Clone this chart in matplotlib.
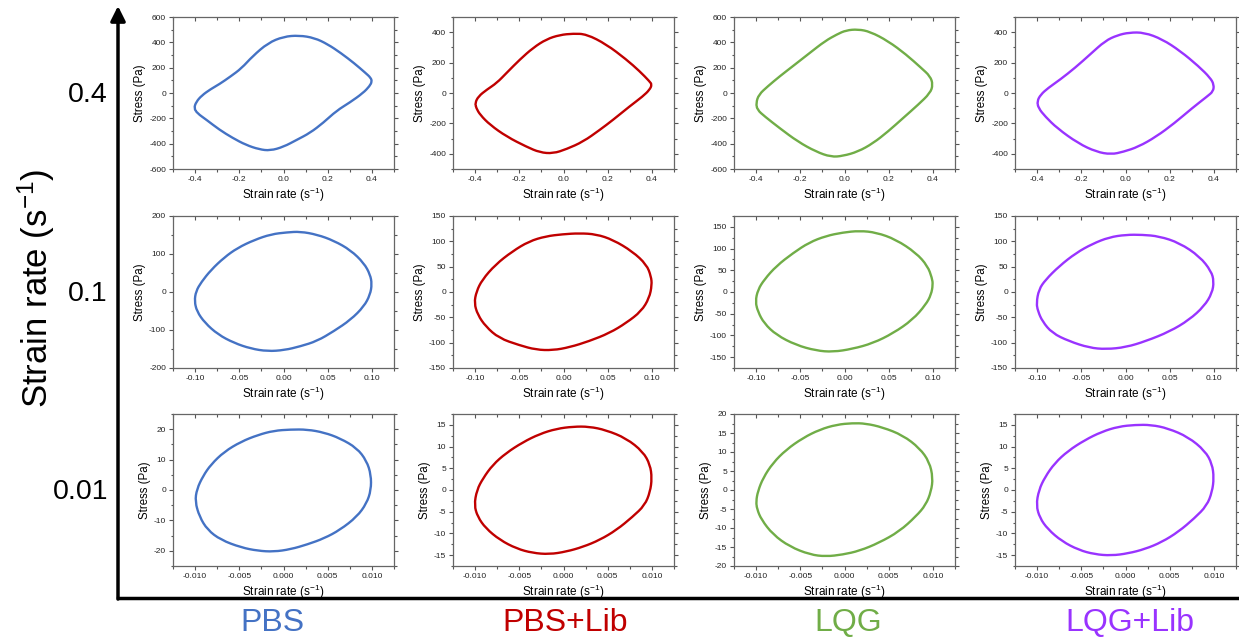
import numpy as np
import matplotlib
matplotlib.use("Agg")
import matplotlib.pyplot as plt
from matplotlib.lines import Line2D
from matplotlib.patches import FancyArrowPatch, PathPatch
from matplotlib.path import Path
from matplotlib.ticker import MultipleLocator, AutoMinorLocator, FormatStrFormatter

plt.rcParams['font.family'] = ['Liberation Sans', 'DejaVu Sans']
plt.rcParams['mathtext.default'] = 'regular'
plt.rcParams['axes.unicode_minus'] = False

W, H = 1239, 642

samples = ["PBS", "PBS+Lib", "LQG", "LQG+Lib"]
sample_colors = ["#4472C4", "#C00000", "#70AD47", "#9933FF"]
rates = ["0.4", "0.1", "0.01"]

# stress loops, strain rate amplitude 0.4 s-1
pbs_04_x = [-0.405, -0.395, -0.37, -0.33, -0.29, -0.24, -0.19, -0.14, -0.07, 0.0, 0.07, 0.14, 0.2,
            0.26, 0.32, 0.37, 0.395, 0.40, 0.39, 0.36, 0.30, 0.24, 0.18, 0.12, 0.06, 0.0, -0.06,
            -0.11, -0.17, -0.23, -0.29, -0.35, -0.39]
pbs_04_y = [-120, -70, -20, 30, 70, 130, 195, 290, 395, 445, 455, 435, 385, 315, 235, 160, 120, 90,
            55, 0, -75, -140, -235, -315, -370, -425, -455, -445, -410, -355, -290, -210, -160]
lib_04_x = [-0.40, -0.385, -0.347, -0.302, -0.257, -0.197, -0.137, -0.077, -0.017, 0.044, 0.104,
            0.194, 0.284, 0.344, 0.389, 0.40, 0.39, 0.359, 0.299, 0.224, 0.164, 0.089, 0.014, -0.047,
            -0.107, -0.167, -0.257, -0.332, -0.377, -0.395]
lib_04_y = [-66, -22, 22, 66, 133, 221, 298, 354, 382, 391, 387, 320, 221, 144, 77, 55, 22, -22, -88,
            -177, -243, -320, -369, -398, -391, -354, -287, -210, -144, -99]
lqg_04_x = [-0.40, -0.388, -0.347, -0.293, -0.224, -0.156, -0.088, -0.034, 0.007, 0.061, 0.116,
            0.197, 0.279, 0.347, 0.388, 0.40, 0.388, 0.333, 0.265, 0.197, 0.129, 0.061, -0.007,
            -0.061, -0.129, -0.211, -0.293, -0.361, -0.395]
lqg_04_y = [-79, -13, 53, 132, 225, 318, 410, 463, 495, 503, 484, 410, 304, 198, 132, 66, 0, -93,
            -198, -304, -397, -463, -497, -505, -463, -384, -278, -185, -132]
lqglib_04_x = [-0.40, -0.384, -0.35, -0.296, -0.228, -0.16, -0.092, -0.037, 0.017, 0.085, 0.166,
               0.248, 0.33, 0.384, 0.40, 0.397, 0.37, 0.302, 0.221, 0.139, 0.058, -0.01, -0.065,
               -0.132, -0.214, -0.309, -0.363, -0.394]
lqglib_04_y = [-55, -11, 33, 88, 166, 254, 343, 380, 398, 398, 354, 276, 177, 99, 55, 11, -22, -99,
               -199, -287, -354, -387, -404, -387, -331, -232, -155, -99]

# strain rate amplitude 0.1 s-1
pbs_01_x = [-0.1007, -0.099, -0.093, -0.082, -0.067, -0.052, -0.033, -0.014, 0.004, 0.019, 0.038,
            0.057, 0.076, 0.091, 0.098, 0.100, 0.098, 0.091, 0.076, 0.057, 0.038, 0.019, 0.001,
            -0.018, -0.037, -0.056, -0.074, -0.089, -0.098]
pbs_01_y = [-24, 2, 26, 58, 91, 116, 137, 152, 157, 159, 151, 135, 110, 76, 46, 21, -7, -38, -73,
            -103, -129, -143, -153, -156, -149, -134, -112, -81, -51]
lib_01_x = [-0.101, -0.0985, -0.092, -0.077, -0.058, -0.039, -0.020, -0.001, 0.018, 0.037, 0.056,
            0.078, 0.094, 0.099, 0.100, 0.097, 0.088, 0.071, 0.052, 0.029, 0.007, -0.012, -0.031,
            -0.050, -0.073, -0.088, -0.097]
lib_01_y = [-22, 1, 24, 54, 80, 100, 110, 114, 116, 114, 103, 80, 54, 31, 14, -12, -38, -61, -81,
            -97, -109, -115, -114, -105, -91, -68, -45]
lqg_01_x = [-0.1008, -0.098, -0.0906, -0.077, -0.058, -0.040, -0.021, -0.002, 0.017, 0.036, 0.058,
            0.081, 0.094, 0.099, 0.100, 0.098, 0.092, 0.077, 0.055, 0.032, 0.009, -0.013, -0.032,
            -0.055, -0.077, -0.091, -0.098]
lqg_01_y = [-22, 5, 29, 60, 90, 114, 129, 137, 141, 137, 121, 90, 60, 32, 17, -6, -29, -64, -95,
            -118, -131, -138, -135, -122, -99, -72, -45]
lqglib_01_x = [-0.1008, -0.098, -0.0905, -0.075, -0.056, -0.0375, -0.0186, 0.0004, 0.019, 0.038,
               0.061, 0.084, 0.097, 0.100, 0.098, 0.089, 0.072, 0.050, 0.023, 0.0004, -0.022,
               -0.041, -0.064, -0.083, -0.094, -0.099]
lqglib_01_y = [-22, 5, 24, 51, 77, 95, 108, 113, 113, 110, 97, 70, 41, 21, -2, -28, -55, -78, -97,
               -109, -113, -110, -97, -81, -58, -38]

# strain rate amplitude 0.01 s-1
pbs_001_x = [-0.0100, -0.0098, -0.0091, -0.0082, -0.0067, -0.0048, -0.0029, -0.0011, 0.0008,
             0.0027, 0.0046, 0.0064, 0.0083, 0.0094, 0.0099, 0.0099, 0.0094, 0.0083, 0.0064, 0.0046,
             0.0027, 0.0008, -0.0011, -0.0029, -0.0048, -0.0071, -0.0086, -0.0095]
pbs_001_y = [-3.8, 0.3, 4.6, 8.4, 12.6, 15.9, 18.1, 19.5, 19.9, 19.9, 18.9, 17.0, 13.8, 9.6, 5.0,
             0.0, -4.4, -8.8, -13.1, -15.9, -17.9, -19.5, -20.3, -20.0, -18.9, -16.4, -13.1, -8.8]
lib_001_x = [-0.0101, -0.0098, -0.0091, -0.0080, -0.0065, -0.0046, -0.0027, -0.0008, 0.0011,
             0.0029, 0.0048, 0.0071, 0.0090, 0.0098, 0.0100, 0.0098, 0.0092, 0.0078, 0.0060, 0.0041,
             0.0022, 0.0003, -0.0016, -0.0035, -0.0053, -0.0072, -0.0088, -0.0097]
lib_001_y = [-3.5, 0.0, 2.7, 5.8, 8.5, 11.0, 12.9, 14.1, 14.6, 14.6, 13.8, 11.9, 8.8, 5.8, 2.7, -0.4,
             -3.5, -6.2, -9.2, -11.5, -13.1, -14.2, -14.8, -14.5, -13.5, -11.5, -8.8, -6.2]
lqg_001_x = [-0.0100, -0.0098, -0.0092, -0.0081, -0.0066, -0.0047, -0.0028, -0.0009, 0.0009,
             0.0024, 0.0043, 0.0066, 0.0085, 0.0096, 0.0100, 0.0098, 0.0092, 0.0081, 0.0062, 0.0039,
             0.0017, -0.0002, -0.0021, -0.0039, -0.0062, -0.0081, -0.0094, -0.0099]
lqg_001_y = [-3.0, -0.35, 3.2, 7.1, 10.6, 13.7, 15.9, 17.2, 17.6, 17.5, 16.5, 14.4, 11.0, 7.4, 3.2,
             -0.35, -3.9, -6.9, -10.9, -13.9, -16.0, -17.0, -17.5, -17.0, -14.9, -11.7, -7.8, -5.0]
lqglib_001_x = [-0.0101, -0.0098, -0.0091, -0.0080, -0.0065, -0.0046, -0.0027, -0.0008, 0.0011,
                0.0029, 0.0048, 0.0071, 0.0090, 0.0098, 0.0100, 0.0098, 0.0092, 0.0078, 0.0060,
                0.0041, 0.0022, 0.0003, -0.0016, -0.0035, -0.0053, -0.0072, -0.0088, -0.0097]
lqglib_001_y = [-3.5, 0.0, 3.0, 6.2, 9.0, 11.5, 13.4, 14.6, 15.0, 15.0, 14.2, 12.2, 9.0, 6.0, 2.8,
                -0.4, -3.6, -6.5, -9.6, -12.0, -13.6, -14.6, -15.1, -14.8, -13.8, -11.8, -9.0, -6.4]

loops = [
    [(pbs_04_x, pbs_04_y), (lib_04_x, lib_04_y), (lqg_04_x, lqg_04_y), (lqglib_04_x, lqglib_04_y)],
    [(pbs_01_x, pbs_01_y), (lib_01_x, lib_01_y), (lqg_01_x, lqg_01_y), (lqglib_01_x, lqglib_01_y)],
    [(pbs_001_x, pbs_001_y), (lib_001_x, lib_001_y), (lqg_001_x, lqg_001_y), (lqglib_001_x, lqglib_001_y)],
]

# axis limits / tick steps per panel
x_lims = [0.5, 0.125, 0.0125]
x_steps = [0.2, 0.05, 0.005]
x_fmts = ['%.1f', '%.2f', '%.3f']
y_lims = [[600, 500, 600, 500], [200, 150, 175, 150], [25, 17.5, 20, 17.5]]
y_steps = [[200, 200, 200, 200], [100, 50, 50, 50], [10, 5, 5, 5]]

col_left = [173, 453, 734, 1015]
row_top = [17, 216, 414]
ax_w, ax_h = 221, 152
name_x = [272, 565, 848, 1130]


def closed_curve(ax, x, y, color):
    # smooth closed line through the loop points (quadratic segments between midpoints)
    pts = np.column_stack([x, y])
    mids = (pts + np.roll(pts, -1, axis=0)) / 2
    verts = [mids[-1]]
    codes = [Path.MOVETO]
    for i in range(len(pts)):
        verts += [pts[i], mids[i]]
        codes += [Path.CURVE3, Path.CURVE3]
    ax.add_patch(PathPatch(Path(verts, codes), fill=False, edgecolor=color, lw=1.7,
                           joinstyle='round'))


fig = plt.figure(figsize=(W / 100, H / 100), dpi=100)

for r in range(3):
    for c in range(4):
        ax = fig.add_axes([col_left[c] / W, 1 - (row_top[r] + ax_h) / H, ax_w / W, ax_h / H])
        x, y = loops[r][c]
        closed_curve(ax, x, y, sample_colors[c])
        ax.set_xlim(-x_lims[r], x_lims[r])
        ax.set_ylim(-y_lims[r][c], y_lims[r][c])
        ax.xaxis.set_major_locator(MultipleLocator(x_steps[r]))
        ax.yaxis.set_major_locator(MultipleLocator(y_steps[r][c]))
        ax.xaxis.set_minor_locator(AutoMinorLocator(2))
        ax.yaxis.set_minor_locator(AutoMinorLocator(2))
        ax.xaxis.set_major_formatter(FormatStrFormatter(x_fmts[r]))
        ax.yaxis.set_major_formatter(FormatStrFormatter('%d'))
        ax.tick_params(which='both', direction='out', labelsize=6, colors='#555555',
                       labelcolor='#222222', width=0.8, pad=2)
        ax.tick_params(which='major', length=3)
        ax.tick_params(which='minor', length=1.8)
        ax.tick_params(which='both', top=True, right=True)
        for side in ['top', 'right', 'bottom', 'left']:
            ax.spines[side].set_color('#666666')
            ax.spines[side].set_linewidth(0.9)
        # top/right ticks point inward
        for t in ax.xaxis.get_major_ticks() + ax.xaxis.get_minor_ticks():
            t.tick2line.set_marker(3)
        for t in ax.yaxis.get_major_ticks() + ax.yaxis.get_minor_ticks():
            t.tick2line.set_marker(1)
        ax.set_xlabel('Strain rate (s$^{-1}$)', fontsize=8.5, labelpad=2)
        ax.set_ylabel('Stress (Pa)', fontsize=8.3, labelpad=2)

# row labels and big axes
for r, txt in enumerate(rates):
    fig.text(108 / W, 1 - (row_top[r] + 78) / H, txt, ha='right', va='center', fontsize=20.5)

fig.text(36 / W, 1 - 288 / H, 'Strain rate (s$^{-1}$)', rotation=90, ha='center', va='center',
         fontsize=25)

for c, name in enumerate(samples):
    fig.text(name_x[c] / W, 1 - 623 / H, name, color=sample_colors[c],
             ha='center', va='center', fontsize=23)

fig.add_artist(Line2D([118 / W, 1.0], [1 - 598 / H, 1 - 598 / H], color='black', lw=2.5,
                      transform=fig.transFigure))
fig.add_artist(FancyArrowPatch((118 / W, 1 - 599 / H), (118 / W, 1 - 6 / H),
                               transform=fig.transFigure, arrowstyle='-|>', mutation_scale=22,
                               lw=2.5, color='black', shrinkA=0, shrinkB=0))

fig.savefig('out.png', dpi=100)
